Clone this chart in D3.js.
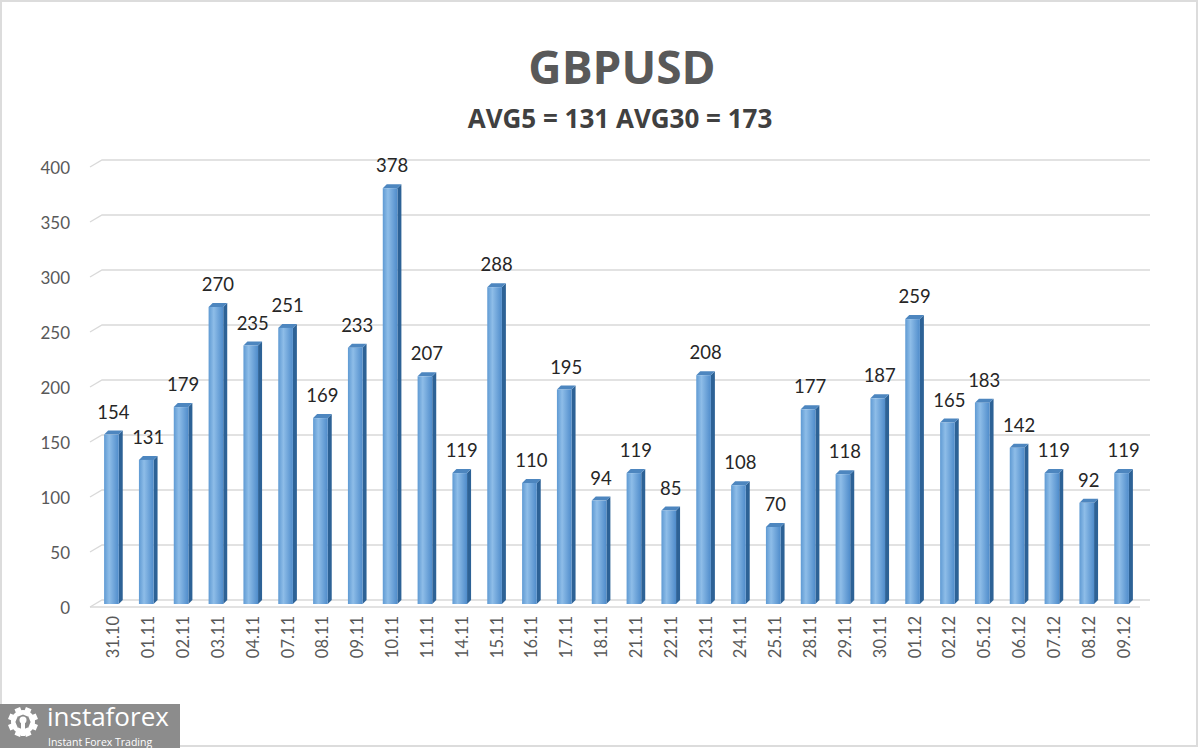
<!doctype html>
<html lang="en">
  <head>
    <meta charset="utf-8">
    <title>GBPUSD</title>
    <script src="https://cdn.jsdelivr.net/npm/d3@7"></script>
    <style>
      body { margin: 0; background: #fff; }
      svg { display: block; }
    </style>
  </head>
  <body>
    <script>
      const dates = ["31.10","01.11","02.11","03.11","04.11","07.11","08.11","09.11","10.11","11.11",
                     "14.11","15.11","16.11","17.11","18.11","21.11","22.11","23.11","24.11","25.11",
                     "28.11","29.11","30.11","01.12","02.12","05.12","06.12","07.12","08.12","09.12"];
      const values = [154,131,179,270,235,251,169,233,378,207,
                      119,288,110,195,94,119,85,208,108,70,
                      177,118,187,259,165,183,142,119,92,119];
      const yTicks = [0,50,100,150,200,250,300,350,400];
      const title = "GBPUSD";
      const subtitle = "AVG5 = 131 AVG30 = 173";

      const w = 1200, h = 749;
      const depth = 6; // 3d offset of the back wall

      const svg = d3.select("body").append("svg")
        .attr("width", w).attr("height", h);

      // frame
      svg.append("rect")
        .attr("x", 1).attr("y", 1).attr("width", w - 4).attr("height", h - 4)
        .attr("fill", "none").attr("stroke", "#dcdcdc").attr("stroke-width", 2);

      const x = d3.scaleBand().domain(dates).range([96, 1141]).paddingInner(0.58).paddingOuter(0.29);
      const y = d3.scaleLinear().domain([0, 400]).range([600, 160]);

      // gridlines (back wall + floor slant)
      const grid = svg.append("g");
      yTicks.forEach(t => {
        grid.append("path")
          .attr("d", `M90,${y(t) + depth + 1}L${90 + 12},${y(t)}L1150,${y(t)}`)
          .attr("fill", "none").attr("stroke", "#d9d9d9").attr("stroke-width", 1.3);
      });
      grid.append("line")
        .attr("x1", 90).attr("x2", 1140).attr("y1", y(0) + depth + 1).attr("y2", y(0) + depth + 1)
        .attr("stroke", "#d9d9d9").attr("stroke-width", 1.3);

      // y axis labels
      svg.append("g").selectAll("text").data(yTicks).join("text")
        .attr("x", 70).attr("y", d => y(d) + 8)
        .attr("dy", "0.35em")
        .attr("text-anchor", "end")
        .attr("font-family", "Lato, 'Open Sans', sans-serif")
        .attr("font-size", 17).attr("fill", "#595959")
        .text(d => d);

      // gradient for front faces
      const defs = svg.append("defs");
      const grad = defs.append("linearGradient").attr("id", "front").attr("x1", 0).attr("x2", 1);
      grad.append("stop").attr("offset", "0%").attr("stop-color", "#5f9ad3");
      grad.append("stop").attr("offset", "35%").attr("stop-color", "#8ebde8");
      grad.append("stop").attr("offset", "100%").attr("stop-color", "#4f8ccb");

      const bw = x.bandwidth();
      const dx = 4, dy = 4;
      const bars = svg.append("g").selectAll("g").data(values).join("g");
      // front face sits slightly lower/left than back wall position
      const fx = (d, i) => x(dates[i]) - 2;
      const fy = d => y(d) + 4;
      const fb = y(0) + 4;
      bars.append("path") // side
        .attr("d", (d, i) => `M${fx(d,i)+bw},${fy(d)}L${fx(d,i)+bw+dx},${fy(d)-dy}L${fx(d,i)+bw+dx},${fb-dy}L${fx(d,i)+bw},${fb}Z`)
        .attr("fill", "#2d6296");
      bars.append("path") // top
        .attr("d", (d, i) => `M${fx(d,i)},${fy(d)}L${fx(d,i)+dx},${fy(d)-dy}L${fx(d,i)+bw+dx},${fy(d)-dy}L${fx(d,i)+bw},${fy(d)}Z`)
        .attr("fill", "#4d86bf");
      bars.append("rect") // front
        .attr("x", fx).attr("y", fy)
        .attr("width", bw).attr("height", d => fb - fy(d))
        .attr("fill", "url(#front)");

      // value labels
      svg.append("g").selectAll("text").data(values).join("text")
        .attr("x", (d, i) => x(dates[i]) + bw / 2)
        .attr("y", d => y(d) - 12)
        .attr("text-anchor", "middle")
        .attr("font-family", "Lato, 'Open Sans', sans-serif")
        .attr("font-size", 18.5).attr("fill", "#262626")
        .text(d => d);

      // x labels (rotated)
      svg.append("g").selectAll("text").data(dates).join("text")
        .attr("transform", d => `translate(${x(d) + bw / 2 + 6},616) rotate(-90)`)
        .attr("text-anchor", "end")
        .attr("font-family", "Lato, 'Open Sans', sans-serif")
        .attr("font-size", 16.5).attr("fill", "#595959")
        .text(d => d);

      // titles
      svg.append("text")
        .attr("x", 622).attr("y", 84).attr("text-anchor", "middle")
        .attr("font-family", "'Open Sans', sans-serif").attr("font-weight", "bold")
        .attr("font-size", 46).attr("fill", "#595959")
        .text(title);
      svg.append("text")
        .attr("x", 620).attr("y", 128).attr("text-anchor", "middle")
        .attr("font-family", "'Open Sans', sans-serif").attr("font-weight", "bold")
        .attr("font-size", 26).attr("fill", "#404040")
        .text(subtitle);

      // logo
      const logo = svg.append("g");
      logo.append("rect").attr("x", 0).attr("y", 704).attr("width", 180).attr("height", 44).attr("fill", "#8c8c8c");
      const gear = logo.append("g").attr("transform", "translate(23,722)").attr("fill", "#fff");
      d3.range(8).forEach(k => {
        gear.append("rect").attr("x", -3).attr("y", -15).attr("width", 6).attr("height", 8)
          .attr("transform", `rotate(${k * 45 - 90 + 22.5})`);
      });
      gear.append("circle").attr("r", 10).attr("fill", "none").attr("stroke", "#fff").attr("stroke-width", 4);
      gear.append("circle").attr("r", 3.5).attr("cy", -2);
      gear.append("rect").attr("x", -2).attr("y", 0).attr("width", 4).attr("height", 14);
      logo.append("text").attr("x", 47).attr("y", 726)
        .attr("font-family", "'Open Sans', sans-serif").attr("font-size", 26).attr("fill", "#fff")
        .text("instaforex");
      logo.append("text").attr("x", 48).attr("y", 746)
        .attr("font-family", "'Open Sans', sans-serif").attr("font-size", 10.5).attr("fill", "#fff")
        .text("Instant Forex Trading");
    </script>
  </body>
</html>
